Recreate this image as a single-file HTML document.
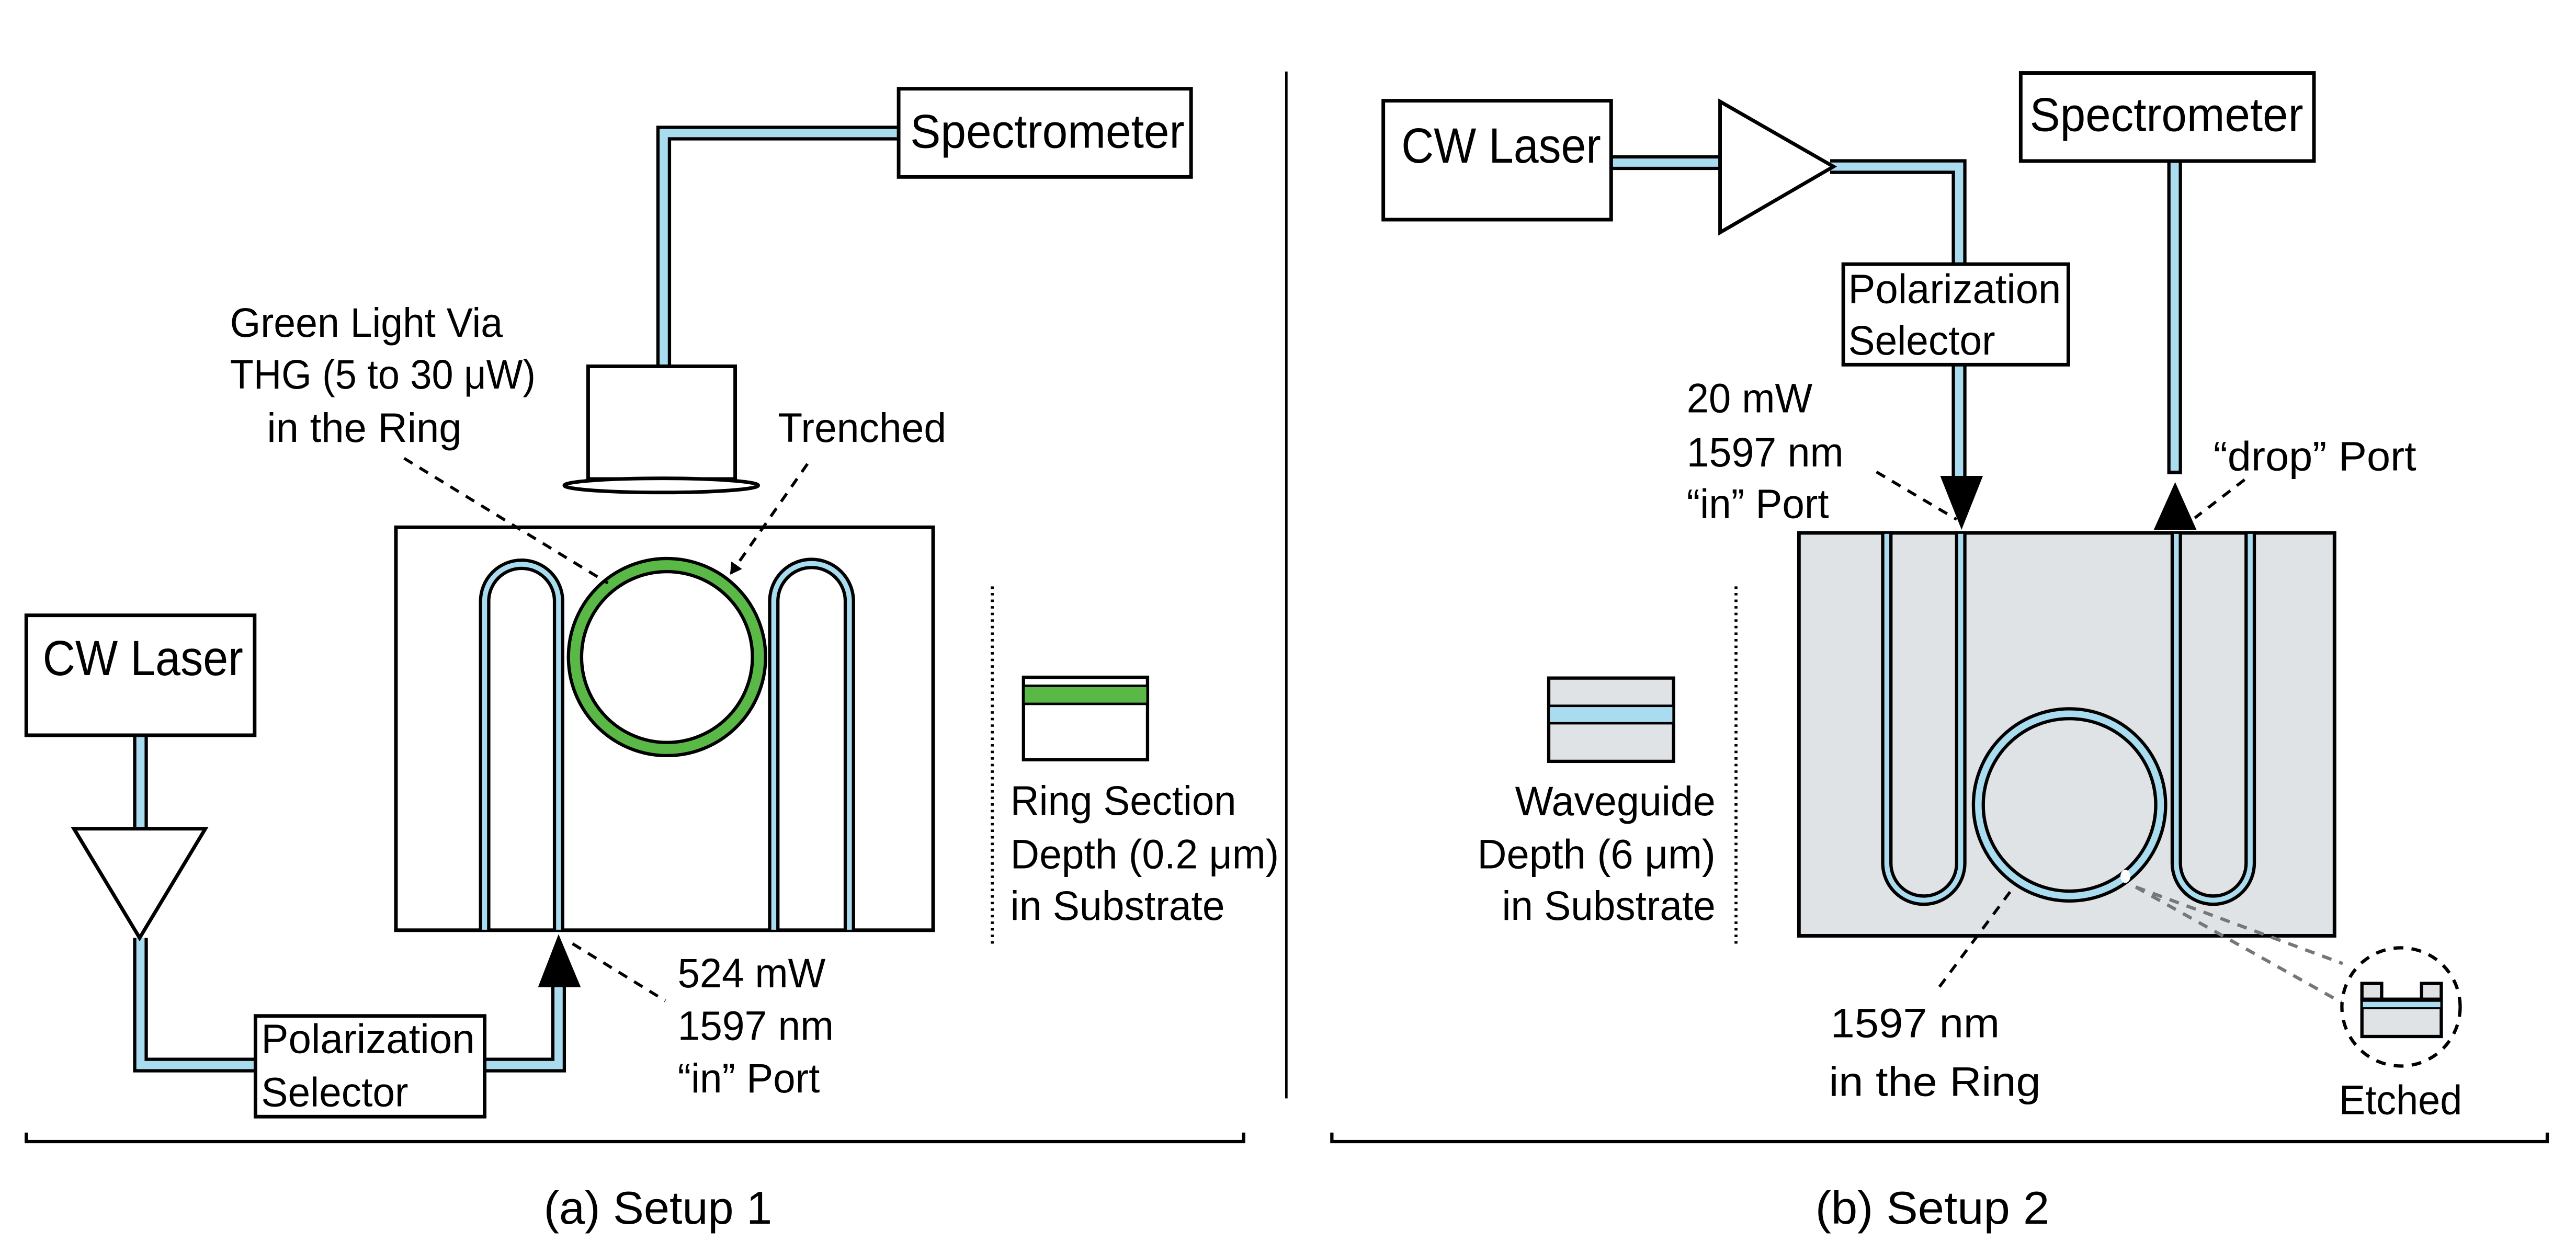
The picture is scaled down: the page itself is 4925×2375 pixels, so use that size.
<!DOCTYPE html>
<html><head><meta charset="utf-8"><style>
html,body{margin:0;padding:0;background:#fff}
svg{display:block}
text{font-family:"Liberation Sans",sans-serif;fill:#000}
</style></head><body>
<svg width="4925" height="2375" viewBox="0 0 1568 756.1" xmlns="http://www.w3.org/2000/svg">
<defs>
<marker id="ah" markerWidth="8" markerHeight="8" refX="6" refY="4" orient="auto" markerUnits="userSpaceOnUse"><path d="M0,0 L7,4 L0,8 z" fill="#000"/></marker>
</defs>
<g fill="none" stroke-linejoin="miter">
<!-- LEFT fibers -->
<path d="M547,81 H404 V223" stroke="#000" stroke-width="9"/>
<path d="M547,81 H404 V223" stroke="#aadcf0" stroke-width="5"/>
<path d="M85.5,447.6 V504.5" stroke="#000" stroke-width="9"/>
<path d="M85.5,447.6 V504.5" stroke="#aadcf0" stroke-width="5"/>
<path d="M85.5,571 V648.4 H155.5" stroke="#000" stroke-width="9"/>
<path d="M85.5,571 V648.4 H155.5" stroke="#aadcf0" stroke-width="5"/>
<path d="M295,648.4 H340 V600" stroke="#000" stroke-width="9"/>
<path d="M295,648.4 H340 V600" stroke="#aadcf0" stroke-width="5"/>
<!-- boxes left -->
<rect x="547" y="54" width="178" height="53.7" fill="#fff" stroke="#000" stroke-width="2.2"/>
<rect x="358" y="223" width="89.5" height="68.6" fill="#fff" stroke="#000" stroke-width="2.2"/>
<ellipse cx="402.5" cy="295.5" rx="59" ry="4.3" fill="#fff" stroke="#000" stroke-width="2.2"/>
<rect x="16" y="374.6" width="139" height="73" fill="#fff" stroke="#000" stroke-width="2.2"/>
<path d="M45,504.5 H125 L85,571 Z" fill="#fff" stroke="#000" stroke-width="2.2"/>
<rect x="155.5" y="618.5" width="139.5" height="61.3" fill="#fff" stroke="#000" stroke-width="2.2"/>
<!-- chip left -->
<rect x="241" y="321" width="327" height="245.3" fill="#fff" stroke="#000" stroke-width="2.2"/>
<path d="M295,566 V366 A22.5,22.5 0 0 1 340,366 V566" stroke="#000" stroke-width="7"/>
<path d="M295,566 V366 A22.5,22.5 0 0 1 340,366 V566" stroke="#aadcf0" stroke-width="3"/>
<path d="M471,566 V366 A23,23 0 0 1 517,366 V566" stroke="#000" stroke-width="7"/>
<path d="M471,566 V366 A23,23 0 0 1 517,366 V566" stroke="#aadcf0" stroke-width="3"/>
<circle cx="406" cy="400" r="56" stroke="#000" stroke-width="10"/>
<circle cx="406" cy="400" r="56" stroke="#5ab946" stroke-width="6"/>
<path d="M327.5,601 L340,568.7 L353.5,601 Z" fill="#000" stroke="none"/>
<!-- dashed left -->
<path d="M246,279 L370,355" stroke="#000" stroke-width="1.8" stroke-dasharray="6,5"/>
<path d="M491.5,282.4 L445,349" stroke="#000" stroke-width="1.8" stroke-dasharray="6,5" marker-end="url(#ah)"/>
<path d="M348.5,574.5 L405,609.3" stroke="#000" stroke-width="1.8" stroke-dasharray="6,5"/>
<!-- section -->
<rect x="623" y="412.3" width="75.5" height="50.2" fill="#fff" stroke="#000" stroke-width="2"/>
<rect x="623" y="417.5" width="75.5" height="11" fill="#5ab946" stroke="#000" stroke-width="1.5"/>
<path d="M604,357 V577" stroke="#000" stroke-width="1.8" stroke-dasharray="1.5,2.5"/>
<!-- divider & brackets -->
<path d="M783,43.5 V668.7" stroke="#000" stroke-width="1.5"/>
<path d="M16,689.5 V695 H757 V689.5" stroke="#000" stroke-width="2"/>
<path d="M810.7,689.5 V695 H1550.5 V689.5" stroke="#000" stroke-width="2"/>

<!-- RIGHT fibers -->
<path d="M980.7,99 H1047" stroke="#000" stroke-width="9"/>
<path d="M980.7,99 H1047" stroke="#aadcf0" stroke-width="5"/>
<path d="M1114,101.4 H1192.5 V160.8" stroke="#000" stroke-width="9"/>
<path d="M1114,101.4 H1192.5 V160.8" stroke="#aadcf0" stroke-width="5"/>
<path d="M1192.5,222 V290" stroke="#000" stroke-width="9"/>
<path d="M1192.5,222 V290" stroke="#aadcf0" stroke-width="5"/>
<path d="M1323.7,98 V288.7" stroke="#000" stroke-width="9"/>
<path d="M1323.7,98 V286.5" stroke="#aadcf0" stroke-width="5"/>
<rect x="842" y="61.3" width="138.7" height="72.4" fill="#fff" stroke="#000" stroke-width="2.2"/>
<path d="M1047,61.8 L1116,101.4 L1047,141.5 Z" fill="#fff" stroke="#000" stroke-width="2.2"/>
<rect x="1122" y="160.8" width="137" height="61.2" fill="#fff" stroke="#000" stroke-width="2.2"/>
<rect x="1230" y="44.4" width="178.5" height="53.6" fill="#fff" stroke="#000" stroke-width="2.2"/>
<!-- chip right -->
<rect x="1095" y="324.4" width="326" height="245.3" fill="#e0e3e6" stroke="#000" stroke-width="2.2"/>
<path d="M1148.5,325 V525.5 A22.5,22.5 0 0 0 1193.5,525.5 V325" stroke="#000" stroke-width="7"/>
<path d="M1148.5,325 V525.5 A22.5,22.5 0 0 0 1193.5,525.5 V325" stroke="#aadcf0" stroke-width="3"/>
<path d="M1324.7,325 V525.5 A22.5,22.5 0 0 0 1369.7,525.5 V325" stroke="#000" stroke-width="7"/>
<path d="M1324.7,325 V525.5 A22.5,22.5 0 0 0 1369.7,525.5 V325" stroke="#aadcf0" stroke-width="3"/>
<circle cx="1259.7" cy="490" r="55.5" stroke="#000" stroke-width="8"/>
<circle cx="1259.7" cy="490" r="55.5" stroke="#aadcf0" stroke-width="4"/>
<ellipse cx="1293.7" cy="533.5" rx="3" ry="4" fill="#fff" stroke="none"/>
<path d="M1181,289.7 L1207,289.7 L1194,322.5 Z" fill="#000" stroke="none"/>
<path d="M1311,322.5 L1337,322.5 L1324,293.5 Z" fill="#000" stroke="none"/>
<!-- dashed right -->
<path d="M1142.2,287.3 L1191,316.2" stroke="#000" stroke-width="1.8" stroke-dasharray="6,5"/>
<path d="M1366.3,292 L1336,315.3" stroke="#000" stroke-width="1.8" stroke-dasharray="6,5"/>
<path d="M1223.5,543 L1178.5,603.5" stroke="#000" stroke-width="1.8" stroke-dasharray="6,5"/>
<path d="M1300,540 L1426,586.6 M1300,540 L1426,610.7" stroke="#777" stroke-width="2" stroke-dasharray="6,5"/>
<circle cx="1461.5" cy="613" r="36" fill="#fff" stroke="#000" stroke-width="2" stroke-dasharray="6,5"/>
<!-- etched inset -->
<rect x="1437.7" y="608.3" width="48.3" height="22.7" fill="#e0e3e6" stroke="#000" stroke-width="2"/>
<rect x="1437.7" y="609.3" width="48.3" height="4.5" fill="#aadcf0" stroke="#000" stroke-width="1.2"/>
<rect x="1437.7" y="598.7" width="12" height="9.6" fill="#e0e3e6" stroke="#000" stroke-width="2"/>
<rect x="1474" y="598.7" width="12" height="9.6" fill="#e0e3e6" stroke="#000" stroke-width="2"/>
<!-- section right -->
<rect x="942.7" y="412.8" width="76" height="50.7" fill="#e0e3e6" stroke="#000" stroke-width="2"/>
<rect x="942.7" y="429.7" width="76" height="10.6" fill="#aadcf0" stroke="#000" stroke-width="1.5"/>
<path d="M1056.7,357 V577" stroke="#000" stroke-width="1.8" stroke-dasharray="1.5,2.5"/>
</g>
<g font-size="25" lengthAdjust="spacingAndGlyphs">
<text x="554" y="90" font-size="29" textLength="167" lengthAdjust="spacingAndGlyphs">Spectrometer</text>
<text x="140" y="205" textLength="166" lengthAdjust="spacingAndGlyphs">Green Light Via</text>
<text x="140" y="236.6" textLength="186" lengthAdjust="spacingAndGlyphs">THG (5 to 30 μW)</text>
<text x="162.5" y="269" textLength="118.5" lengthAdjust="spacingAndGlyphs">in the Ring</text>
<text x="473.5" y="269" textLength="102.5" lengthAdjust="spacingAndGlyphs">Trenched</text>
<text x="26" y="411" font-size="30" textLength="122" lengthAdjust="spacingAndGlyphs">CW Laser</text>
<text x="615" y="496" textLength="137.5" lengthAdjust="spacingAndGlyphs">Ring Section</text>
<text x="615" y="528.7" textLength="163.5" lengthAdjust="spacingAndGlyphs">Depth (0.2 μm)</text>
<text x="615" y="560" textLength="130.5" lengthAdjust="spacingAndGlyphs">in Substrate</text>
<text x="159" y="641" textLength="130" lengthAdjust="spacingAndGlyphs">Polarization</text>
<text x="159" y="673.5" textLength="89.5" lengthAdjust="spacingAndGlyphs">Selector</text>
<text x="412.5" y="601" textLength="90" lengthAdjust="spacingAndGlyphs">524 mW</text>
<text x="412.5" y="633" textLength="95" lengthAdjust="spacingAndGlyphs">1597 nm</text>
<text x="412.5" y="665" textLength="86.5" lengthAdjust="spacingAndGlyphs">“in” Port</text>
<text x="331" y="745" font-size="28" textLength="139" lengthAdjust="spacingAndGlyphs">(a) Setup 1</text>

<text x="853" y="99" font-size="30" textLength="121.5" lengthAdjust="spacingAndGlyphs">CW Laser</text>
<text x="1125" y="184.4" textLength="129.5" lengthAdjust="spacingAndGlyphs">Polarization</text>
<text x="1125" y="215.8" textLength="89.5" lengthAdjust="spacingAndGlyphs">Selector</text>
<text x="1235.5" y="79.7" font-size="29" textLength="166.5" lengthAdjust="spacingAndGlyphs">Spectrometer</text>
<text x="1026.7" y="251" textLength="76.5" lengthAdjust="spacingAndGlyphs">20 mW</text>
<text x="1026.7" y="284" textLength="95.5" lengthAdjust="spacingAndGlyphs">1597 nm</text>
<text x="1026.7" y="315.3" textLength="86.5" lengthAdjust="spacingAndGlyphs">“in” Port</text>
<text x="1347.3" y="286.3" textLength="123.5" lengthAdjust="spacingAndGlyphs">“drop”  Port</text>
<text x="922.2" y="496.3" textLength="122" lengthAdjust="spacingAndGlyphs">Waveguide</text>
<text x="899.2" y="528.7" textLength="145" lengthAdjust="spacingAndGlyphs">Depth (6 μm)</text>
<text x="914.2" y="560" textLength="130" lengthAdjust="spacingAndGlyphs">in Substrate</text>
<text x="1114.2" y="631.5" textLength="103" lengthAdjust="spacingAndGlyphs">1597 nm</text>
<text x="1113.2" y="667.2" textLength="129" lengthAdjust="spacingAndGlyphs">in the Ring</text>
<text x="1423.7" y="678.3" textLength="75" lengthAdjust="spacingAndGlyphs">Etched</text>
<text x="1105" y="745" font-size="28" textLength="142.5" lengthAdjust="spacingAndGlyphs">(b) Setup 2</text>
</g>
</svg>
</body></html>
